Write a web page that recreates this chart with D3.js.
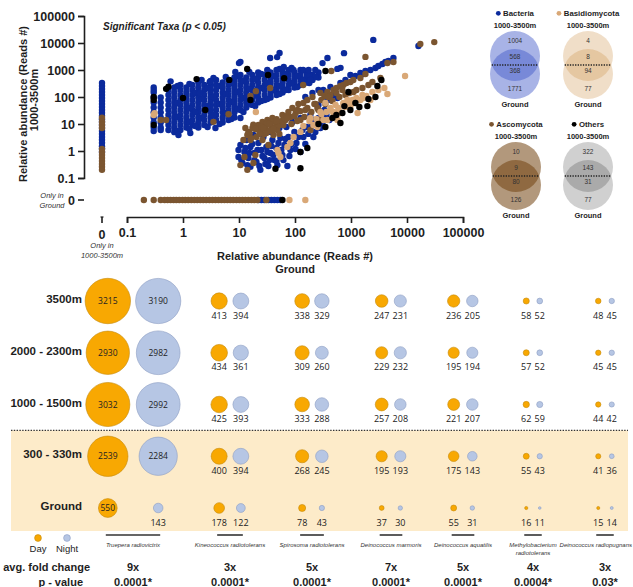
<!DOCTYPE html>
<html><head><meta charset="utf-8">
<script src="https://cdn.jsdelivr.net/npm/d3@7"></script>
<style>
body{margin:0;background:#fff;}
svg{display:block;font-family:"Liberation Sans",Arial,sans-serif;}
</style></head><body>
<svg id="chart" width="633" height="587"></svg>
<script>
// ---------- Scatter: reads per taxon, [ground, 1000-3500m]; 0 = absent ----------
const scatterTicks = [0.1, 1, 10, 100, 1000, 10000, 100000];

const bacteria = [
  [0,330],[0,255],[0,197],[0,153],[0,119],[0,92],[0,71],[0,55],[0,43],[0,33],[0,26],[0,20],[0,15],[0,11.8],[0,9.2],[0,7.1],[0,5.5],[0,4.3],[0,3.3],[0,2.6],[0,2.0],[0,1.5],[0,1.2],[0,0.92],
  [0.3,225],[0.3,147],[0.3,96],[0.3,63],[0.3,41],[0.3,27],[0.3,17.5],[0.3,11.4],[0.3,7.4],[0.3,5.5],
  [0.4,96],[0.4,63],[0.4,41],[0.4,27],[0.4,17.5],[0.4,11.4],[0.4,7.4],[0.4,6],
  [0.55,182],[0.55,119],[0.55,77],[0.55,51],[0.55,33],[0.55,21.5],[0.55,14],[0.55,9.2],[0.55,6],
  [0.7,225],[0.7,147],[0.7,96],[0.7,63],[0.7,41],[0.7,27],[0.7,17.5],[0.7,11.4],[0.7,7.4],[0.7,5],
  [0.9,278],[0.9,182],[0.9,119],[0.9,77],[0.9,51],[0.9,33],[0.9,21.5],[0.9,14],[0.9,9.2],[0.9,6],
  [1.15,225],[1.15,147],[1.15,96],[1.15,63],[1.15,41],[1.15,27],[1.15,17.5],[1.15,11.4],[1.15,7.4],
  [1.47,278],[1.47,182],[1.47,119],[1.47,77],[1.47,51],[1.47,33],[1.47,21.5],[1.47,14],[1.47,9.2],
  [1.88,344],[1.88,225],[1.88,147],[1.88,96],[1.88,63],[1.88,41],[1.88,27],[1.88,17.5],[1.88,11.4],[1.88,7.4],
  [2.4,278],[2.4,182],[2.4,119],[2.4,77],[2.4,51],[2.4,33],[2.4,21.5],[2.4,14],[2.4,9.2],
  [3.1,344],[3.1,225],[3.1,147],[3.1,96],[3.1,63],[3.1,41],[3.1,27],[3.1,17.5],[3.1,11.4],
  [3.9,426],[3.9,278],[3.9,182],[3.9,119],[3.9,77],[3.9,51],[3.9,33],[3.9,21.5],[3.9,14],
  [5.1,344],[5.1,225],[5.1,147],[5.1,96],[5.1,63],[5.1,41],[5.1,27],[5.1,17.5],[5.1,11.4],
  [6.5,426],[6.5,278],[6.5,182],[6.5,119],[6.5,77],[6.5,51],[6.5,33],[6.5,21.5],[6.5,14],
  [8.3,527],[8.3,344],[8.3,225],[8.3,147],[8.3,96],[8.3,63],[8.3,41],[8.3,27],[8.3,17.5],
  [10.6,653],[10.6,426],[10.6,278],[10.6,182],[10.6,119],[10.6,77],[10.6,51],[10.6,33],
  [13.5,527],[13.5,344],[13.5,225],[13.5,147],[13.5,96],[13.5,63],[13.5,41],
  [17.3,653],[17.3,426],[17.3,278],[17.3,182],[17.3,119],[17.3,77],[17.3,51],
  [22,807],[22,527],[22,344],[22,225],[22,147],[22,96],[22,63],
  [28.7,653],[28.7,426],[28.7,278],[28.7,182],[28.7,119],[28.7,77],
  [36.6,807],[36.6,527],[36.6,344],[36.6,225],[36.6,147],[36.6,96],
  [46.8,1000],[46.8,653],[46.8,426],[46.8,278],[46.8,182],[46.8,119],
  [60,807],[60,527],[60,344],[60,225],[60,147],
  [77,1000],[77,653],[77,426],[77,278],[77,182],
  [98,807],[98,527],[98,344],[98,225],
  [125,1000],[125,653],[125,426],[125,278],
  [160,807],[160,527],[160,344],
  [205,653],[205,426],
  [262,807],[262,527],
  [0.8,255],[0.8,60],[0.8,18.2],[0.8,5.5],[1.3,303],[1.3,39],[1.3,11.9],[1.3,6.5],[1.65,141],[1.65,28],[1.65,8.4],
  [2.15,426],[2.15,84],[2.15,16.7],[2.75,215],[2.75,46],[2.75,7.7],[3.5,506],[3.5,100],[3.5,21.5],[4.5,255],[4.5,55],[4.5,10],
  [5.8,550],[5.8,129],[5.8,25.5],[7.3,330],[7.3,65],[7.3,15.3],[9.4,600],[9.4,153],[9.4,36],[12,392],[12,92],[12,28],
  [15.3,843],[15.3,198],[15.3,55],[19.5,464],[19.5,119],[19.5,46],[25,711],[25,215],[25,71],[32,1000],[32,330],[32,84],
  [41,600],[41,182],[53,1090],[53,255],[53,129],[68,711],[68,182],[87,1190],[87,330],[110,600],[110,235],[140,1000],[140,426],
  [180,653],[180,330],[230,550],[230,1000],
  [0.6,380],[3,360],[10,1800],[8.6,850],[10.6,2000],[36,2800],[48,3000],[53,4300],[63,1300],[94,1000],[175,1000],[190,430],
  [310,1800],[380,2800],[750,4200],[2500,13000],[0.3,180],[2,140],[3.1,390],[0.83,3.9],[1.35,4.6],[3.8,7.1],[10.6,16.6],[570,1100],[650,1200],
  [9.8,1.09],[9.8,0.6],[10.6,1.67],[11.5,0.36],[12.5,0.92],[13.6,2.55],[14.7,0.55],[16,1.41],[16,0.26],[18.1,3.9],[18.8,0.84],[20.5,0.39],
  [22.2,1.98],[24.1,0.2],[25.1,1.09],[27.3,3.3],[28.4,0.55],[30.8,1.41],[33.5,0.28],[36.4,5.1],[36.4,0.84],[39.5,2.55],[42.9,0.46],[46.6,1.29],
  [48.5,0.3],[52.6,7.1],[54.8,3.0],[59.6,0.71],[64.7,1.67],[70.2,7.7],[73.1,0.28],[76.2,3.3],[82.8,1.09],[89.9,11.9],[97.5,5.1],[106,1.98],
  [125,16.7],[125,0.92],[141,3.3],[160,7.7],[188,21.5],[213,3.3],[213,14],[262,51],[284,7.1],[335,33],[379,77],[429,77],[506,119],[572,92],
  [647,330],[795,426],[975,653],[1200,600],[1470,774],[1810,918],[2220,1000],[2730,1190],[3080,1410],[4110,1980],[5720,2780],[16000,7740],
  [153,100],[205,141],[262,182],[320,182],[429,235],
  [11,0.46],[13,1.29],[14.1,0.3],[15.3,0.84],[17.3,1.82],[18.8,0.46],[21.3,1.09],[23.1,0.28],[26.2,0.65],[29.6,0.33],[32.1,0.92],
  [34.9,0.46],[37.9,1.53],[41.1,0.71],[46.6,0.43],[50.6,1.98],[57.1,1.09],[62.1,0.46],[67.4,2.8],[79.4,0.65],[86.3,1.82],[102,1.19],
  [115,3.3],[136,6.0],[153,1.82],[173,4.3],[196,8.4],[231,5.1],[262,16.7],[308,10.9],[364,21.5],[411,14.1],
  [1664,711],[3637,1668],[4656,2154],
  [22.2,0],[25.1,0],[28.4,0],[33.5,0],[37.9,0],[42.9,0],[48.5,0],[54.8,0]
];

const ascomycota = [
  [0,17],[0,12],[0,9.2],[0,7.1],[0,1.2],[0,0.92],[0,0.71],[0,0.55],[0,0.43],[0,0.33],[0,0.26],[0,0.2],
  [0.4,14],[0.5,14],[3.5,12],[6.5,23],[16,110],[20,165],[36,215],[140,280],[445,918],[1810,3050],
  [10.6,0.3],[12.5,0.6],[14.1,0.2],[14.7,5.1],[16,2.55],[17.4,7.1],[18.1,0.36],[19.6,0.71],[20.5,3.3],[22.2,9.2],[24.1,5.1],[26.2,2.55],
  [26.2,11.9],[29.6,7.1],[32.1,14],[33.5,1.67],[36.4,9.2],[39.5,16.7],[41.2,3.9],[44.8,11.9],[48.5,6],[54.8,10.9],[59.6,21.5],[67.8,14],
  [76.2,27.8],[82.8,18.1],[89.9,39],[103,25.5],[111,33],[115,55],[125,14],[141,60],[153,33],[166,77],[188,6],[205,100],[233,55],[251,39],
  [284,14],[284,141],[335,109],[379,153],[429,119],[486,182],[550,215],[647,255],[731,278],[829,330],[975,359],[1100,426],[1470,506],
  [1810,710],[4470,1820],[5720,1980],[17300,9180],[30700,10800],
  [13,7.1],[15.5,4.5],[18,9.5],[21,6.5],[25,8],[28,4.2],[31,10],[35,5.5],[38,12.5],[42,7.5],[47,15],[52,9],[58,13],[64,17],[72,20],
  [12,2.55],[14.1,3.9],[16.6,3.0],[19.6,6.5],[23.1,4.3],[27.3,7.1],[30.8,4.6],[34.9,10],[41.1,6.5],[46.6,12.9],[52.6,4.3],[62.1,9.2],
  [73.1,16.7],[86.3,10],[97.5,19.8],[110,12.9],[125,30],[147,18.2],[166,39],[196,28],[222,55],[262,33],[296,77],[349,55],[395,100],
  [466,71],[548,141],[621,100],[702,182],[795,119],[935,141],[1104,153],[1248,182],[1600,215],[2046,278],[2411,359],[3350,506],
  [0.2,0],[0.3,0],[0.4,0],[0.47,0],[0.53,0],[0.6,0],[0.68,0],[0.76,0],[0.86,0],[0.98,0],[1.1,0],[1.24,0],[1.41,0],[1.6,0],[1.8,0],[2.04,0],
  [2.3,0],[2.6,0],[2.96,0],[3.35,0],[3.8,0],[4.3,0],[4.85,0],[5.5,0],[6.2,0],[7,0],[7.9,0],[9,0],[10.2,0],[11.5,0],[13,0],[14.7,0],
  [16.7,0],[18.8,0],[21.3,0],[30.8,0]
];

const basidiomycota = [
  [0.3,21.5],[0.31,25],[20,28],
  [48.5,1.09],[50.7,0.84],[54.8,0.6],[73.1,1.41],[82.8,1.98],[94.4,3.3],[125,5.1],[188,16.7],[213,9.2],[251,7.7],[284,27.8],[321,14],
  [350,60],[379,14],[429,39],[429,33],[486,25.5],[530,51],[572,14],[600,33],[647,25.5],[731,60],[795,42.5],[863,77],[975,42.5],
  [1100,60],[1310,25.5],[1470,77],[1650,92],[2220,77],[4470,129],[9230,600],
  [141,8.4],[181,12.9],[241,15.3],[296,23.5],[364,28],[485,28],[596,39],[731,55],[899,60],[1060,77],[1248,92],[1600,119],
  [1884,109],[2411,153],[3084,182],[3947,215],
  [79.5,0],[153,0]
];

const others = [
  [0.3,100],[0.3,78],[0.3,9.2],[0.5,200],[0.55,240],[1,92],[1.75,460],[2.5,33],[6.7,430],[14,1100],[16,77],[33,650],[64,500],[350,920],
  [44.8,0.22],[125,0.23],[125,0.92],[166,1.29],[349,7.7],[466,16.7],[647,10.9],[702,25.5],[762,46],[900,153],[975,33],[1410,42.5],
  [1960,46],[2730,100],[2960,255],[262,10],[548,21.5],[1199,60],[2046,84],[3490,426],
  [59.6,0]
];

// ---------- Venn counts ----------
const vennGroups = ["Bacteria", "Basidiomycota", "Ascomycota", "Others"];
const vennOnlyAltitude = [1004, 4, 10, 322];
const vennSharedAltitude = [568, 8, 9, 143];
const vennSharedGround = [368, 94, 80, 31];
const vennOnlyGround = [1771, 77, 126, 77];

// ---------- Day / night bubble table ----------
const altitudes = ["3500m", "2000 - 2300m", "1000 - 1500m", "300 - 330m", "Ground"];
const species = ["Truepera radiovictrix", "Kineococcus radiotolerans", "Spirosoma radiotolerans", "Deinococcus marmoris",
                 "Deinococcus aquatilis", "Methylobacterium radiotolerans", "Deinococcus radiopugnans"];
const dayReads = [
  [3215, 413, 338, 247, 236, 58, 48],
  [2930, 434, 309, 229, 195, 57, 45],
  [3032, 425, 333, 257, 221, 62, 44],
  [2539, 400, 268, 195, 175, 55, 41],
  [550, 178, 78, 37, 55, 16, 15]
];
const nightReads = [
  [3190, 394, 329, 231, 205, 52, 45],
  [2982, 361, 260, 232, 194, 52, 45],
  [2992, 393, 288, 208, 207, 59, 42],
  [2284, 394, 245, 193, 143, 43, 36],
  [143, 122, 43, 30, 31, 11, 14]
];
const foldChange = ["9x", "3x", "5x", "7x", "5x", "4x", "3x"];
const pValues = ["0.0001*", "0.0001*", "0.0001*", "0.0001*", "0.0001*", "0.0004*", "0.03*"];

// ================= drawing =================
const svg = d3.select("#chart");
const INK = "#1e1e1e";

// ----- scatter -----
const xLog = d3.scaleLog().domain([0.1, 100000]).range([127, 463]);
const yLog = d3.scaleLog().domain([0.1, 100000]).range([178, 16]);
const xZero = 102, yZero = 200;
const sx = v => v === 0 ? xZero : xLog(v);
const sy = v => v === 0 ? yZero : yLog(v);
const fmtTick = d => String(d);

const taxa = [
  {key: "Bacteria", data: bacteria, color: "#0b2a9c"},
  {key: "Ascomycota", data: ascomycota, color: "#7b5530"},
  {key: "Basidiomycota", data: basidiomycota, color: "#d9a877"},
  {key: "Others", data: others, color: "#000000"}
];

const gx = svg.append("g").attr("transform", "translate(0,217)")
  .call(d3.axisBottom(xLog).tickValues(scatterTicks).tickFormat(fmtTick).tickSize(6).tickSizeOuter(6).tickPadding(5));
const gy = svg.append("g").attr("transform", "translate(84,0)")
  .call(d3.axisLeft(yLog).tickValues(scatterTicks).tickFormat(fmtTick).tickSize(6).tickSizeOuter(6).tickPadding(3));
[gx, gy].forEach(g => {
  g.select(".domain").attr("stroke", INK).attr("stroke-width", 1.6);
  g.selectAll(".tick line").attr("stroke", INK).attr("stroke-width", 1.6);
  g.selectAll(".tick text").attr("fill", INK).attr("font-size", 12.5).attr("font-weight", "bold")
    .attr("font-family", "'Liberation Sans', Arial, sans-serif");
});

// separate zero ticks for taxa found in only one location
svg.append("line").attr("x1", xZero).attr("x2", xZero).attr("y1", 217).attr("y2", 223).attr("stroke", INK).attr("stroke-width", 1.6);
svg.append("line").attr("x1", xZero - 1.5).attr("x2", xZero + 1.5).attr("y1", 217).attr("y2", 217).attr("stroke", INK).attr("stroke-width", 1.2);
svg.append("text").attr("x", xZero).attr("y", 239).attr("text-anchor", "middle").attr("font-size", 12.5).attr("font-weight", "bold").attr("fill", INK).text("0");
svg.append("line").attr("x1", 78).attr("x2", 84).attr("y1", yZero).attr("y2", yZero).attr("stroke", INK).attr("stroke-width", 1.6);
svg.append("text").attr("x", 75).attr("y", yZero + 4.5).attr("text-anchor", "end").attr("font-size", 12.5).attr("font-weight", "bold").attr("fill", INK).text("0");

const note = (x, y, lines) => {
  const t = svg.append("text").attr("x", x).attr("y", y).attr("text-anchor", "middle")
    .attr("font-size", 7.5).attr("font-style", "italic").attr("fill", "#333");
  lines.forEach((l, i) => t.append("tspan").attr("x", x).attr("dy", i ? 9.5 : 0).text(l));
};
note(52, 198, ["Only in", "Ground"]);
note(102, 248, ["Only in", "1000-3500m"]);

// points
taxa.forEach(t => {
  svg.append("g").selectAll("circle").data(t.data).join("circle")
    .attr("cx", d => sx(d[0])).attr("cy", d => sy(d[1])).attr("r", 3.2).attr("fill", t.color);
});

svg.append("text").attr("x", 103).attr("y", 29.5).attr("font-size", 10).attr("font-weight", "bold").attr("font-style", "italic")
  .attr("fill", INK).text("Significant Taxa (p < 0.05)");

// axis titles
const xt = svg.append("text").attr("x", 295).attr("y", 260).attr("text-anchor", "middle").attr("font-size", 11).attr("font-weight", "bold").attr("fill", INK);
xt.append("tspan").attr("x", 295).text("Relative abundance (Reads #)");
xt.append("tspan").attr("x", 295).attr("dy", 13).text("Ground");
svg.append("text").attr("transform", "translate(27,104) rotate(-90)").attr("text-anchor", "middle").attr("font-size", 11)
  .attr("font-weight", "bold").attr("fill", INK).text("Relative abundance (Reads #)");
svg.append("text").attr("transform", "translate(38,100) rotate(-90)").attr("text-anchor", "middle").attr("font-size", 11)
  .attr("font-weight", "bold").attr("fill", INK).text("1000-3500m");

// ----- Venn diagrams -----
const vennStyle = {
  Bacteria: {fill: "#3f57c8", op: 0.45, dot: "#0b2a9c"},
  Basidiomycota: {fill: "#cd9148", op: 0.3, dot: "#d9a877"},
  Ascomycota: {fill: "#734410", op: 0.55, dot: "#7b5530"},
  Others: {fill: "#141414", op: 0.2, dot: "#000000"}
};
const vennX = d3.scaleOrdinal().domain(vennGroups).range([515, 588, 516, 588]);
const vennY = d3.scaleOrdinal().domain(vennGroups).range([56, 56, 167, 167]);
const vr = 25, vgap = 18;
vennGroups.forEach((g, i) => {
  const cx = vennX(g), cy = vennY(g), st = vennStyle[g];
  const G = svg.append("g");
  [cy, cy + vgap].forEach(y => G.append("circle").attr("cx", cx).attr("cy", y).attr("r", vr).attr("fill", st.fill).attr("fill-opacity", st.op));
  const mid = cy + vgap / 2, half = Math.sqrt(vr * vr - (vgap / 2) * (vgap / 2));
  G.append("line").attr("x1", cx - half).attr("x2", cx + half).attr("y1", mid).attr("y2", mid)
    .attr("stroke", "#222").attr("stroke-width", 1.3).attr("stroke-dasharray", "1.3,1.3");
  // legend row
  const lt = G.append("text").attr("x", 0).attr("y", cy - 40).attr("font-size", 7.8).attr("font-weight", "bold").attr("fill", INK).text(g);
  const w = lt.node().getComputedTextLength();
  const start = cx - (w + 7) / 2;
  lt.attr("x", start + 7);
  G.append("circle").attr("cx", start + 2.2).attr("cy", cy - 42.7).attr("r", 2.4).attr("fill", st.dot);
  G.append("text").attr("x", cx).attr("y", cy - 28.5).attr("text-anchor", "middle").attr("font-size", 7.5).attr("font-weight", "bold").attr("fill", INK).text("1000-3500m");
  const num = (y, v) => G.append("text").attr("x", cx).attr("y", y).attr("text-anchor", "middle").attr("font-size", 6.5).attr("fill", "#333").text(v);
  num(cy - 13.5, vennOnlyAltitude[i]);
  num(mid - 5.8, vennSharedAltitude[i]);
  num(mid + 8.3, vennSharedGround[i]);
  num(cy + vgap + 17.3, vennOnlyGround[i]);
  G.append("text").attr("x", cx).attr("y", cy + vgap + 32.5).attr("text-anchor", "middle").attr("font-size", 7.5).attr("font-weight", "bold").attr("fill", INK).text("Ground");
});

// ----- bubble table -----
const DAY = "#f8a802", NIGHT = "#b6c6e4";
const rowY = d3.scalePoint().domain(altitudes).range([301, 508]);
const colX = d3.scaleOrdinal().domain(species).range([133, 230, 312, 391, 463, 533, 605]);
const rScale = d3.scaleSqrt().domain([0, 3215]).range([0, 22.7]);
const NUM_SIZE = 9;

const shadeTop = (rowY(altitudes[2]) + rowY(altitudes[3])) / 2;
svg.append("rect").attr("x", 11).attr("y", shadeTop).attr("width", 617).attr("height", 531 - shadeTop).attr("fill", "#fdebc9");
svg.append("line").attr("x1", 11).attr("x2", 628).attr("y1", shadeTop).attr("y2", shadeTop)
  .attr("stroke", "#333").attr("stroke-width", 1.4).attr("stroke-dasharray", "1.4,1.4");

altitudes.forEach(a => {
  svg.append("text").attr("x", 82).attr("y", rowY(a) + 2).attr("text-anchor", "end").attr("font-size", 11.5)
    .attr("font-weight", "bold").attr("fill", INK).text(a);
});

const numFont = "'Open Sans', 'Noto Sans', sans-serif";
species.forEach((s, ci) => {
  const colVals = altitudes.flatMap((a, ri) => [dayReads[ri][ci], nightReads[ri][ci]]);
  const maxR = rScale(d3.max(colVals));
  const digits = d3.max(colVals.filter(v => rScale(v) <= 9), v => String(v).length) || 3;
  const off = Math.max(maxR + 2.5, digits * 0.572 * NUM_SIZE / 2 + 1.6);
  const cx = colX(s);
  altitudes.forEach((a, ri) => {
    const y = rowY(a);
    [[dayReads[ri][ci], -off, DAY, "#c48a0c"], [nightReads[ri][ci], off, NIGHT, "#8d9ec2"]].forEach(([v, dx, fill, stroke]) => {
      const r = rScale(v);
      svg.append("circle").attr("cx", cx + dx).attr("cy", y).attr("r", r).attr("fill", fill).attr("stroke", stroke).attr("stroke-width", 0.6);
      const inside = r > 9;
      svg.append("text").attr("x", cx + dx).attr("y", inside ? y + 3 : y + 17.5).attr("text-anchor", "middle")
        .attr("font-family", numFont).attr("font-size", inside ? 8.5 : NUM_SIZE).attr("fill", "#222").text(v);
    });
  });
  // underline + species name
  svg.append("line").attr("x1", cx - off - 2).attr("x2", cx + off + 2).attr("y1", 535).attr("y2", 535).attr("stroke", "#333").attr("stroke-width", 1.6);
  const lines = s.length > 26 ? s.split(" ") : [s];
  const st = svg.append("text").attr("x", cx).attr("y", 547).attr("text-anchor", "middle").attr("font-size", 6)
    .attr("font-style", "italic").attr("fill", "#333");
  lines.forEach((l, i) => st.append("tspan").attr("x", cx).attr("dy", i ? 8 : 0).text(l));
  const tw = st.node().getBBox().width;
  if (cx + tw / 2 > 632) st.selectAll("tspan").attr("x", 632 - tw / 2);
  svg.append("text").attr("x", cx).attr("y", 571).attr("text-anchor", "middle").attr("font-size", 11).attr("font-weight", "bold").attr("fill", INK).text(foldChange[ci]);
  svg.append("text").attr("x", cx).attr("y", 586).attr("text-anchor", "middle").attr("font-size", 11).attr("font-weight", "bold").attr("fill", INK).text(pValues[ci]);
});

svg.append("text").attr("x", 90).attr("y", 571).attr("text-anchor", "end").attr("font-size", 11).attr("font-weight", "bold").attr("fill", INK).text("avg. fold change");
svg.append("text").attr("x", 83).attr("y", 586).attr("text-anchor", "end").attr("font-size", 11).attr("font-weight", "bold").attr("fill", INK).text("p - value");

// day / night key
[["Day", DAY, "#c48a0c", 38], ["Night", NIGHT, "#8d9ec2", 67]].forEach(([lbl, fill, stroke, x]) => {
  svg.append("circle").attr("cx", x).attr("cy", 538).attr("r", 3.4).attr("fill", fill).attr("stroke", stroke).attr("stroke-width", 0.6);
  svg.append("text").attr("x", x).attr("y", 552).attr("text-anchor", "middle").attr("font-size", 9.5).attr("fill", "#222").text(lbl);
});
</script></body></html>
